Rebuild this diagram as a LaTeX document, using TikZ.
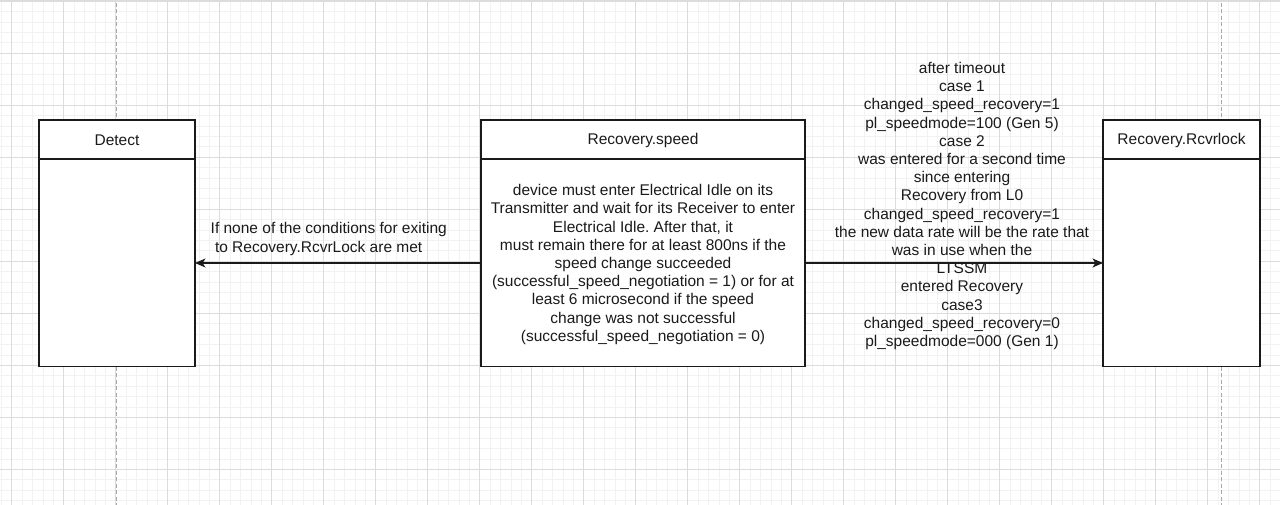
\documentclass[tikz,border=0pt]{standalone}
\usepackage{fontspec}
\setmainfont{Liberation Sans}
\usetikzlibrary{arrows.meta}
\frenchspacing
\definecolor{gridminor}{HTML}{F2F2F2}
\definecolor{gridmajor}{HTML}{DCDCDC}
\definecolor{inkc}{HTML}{1A1A1A}
\definecolor{lifec}{HTML}{A8A8A8}
\tikzset{
  statebox/.style={draw=inkc, line width=1.3pt, fill=white},
  headline/.style={draw=inkc, line width=1.3pt},
  lifeline/.style={draw=lifec, line width=0.9pt, dash pattern=on 4pt off 2.5pt},
  msg/.style={draw=inkc, line width=1.3pt, -{Stealth[length=10.5pt,width=9pt,inset=3pt]}},
  txt/.style={inner sep=0pt, align=center, text=inkc, font=\fontsize{15.5}{18.2}\selectfont},
}
\begin{document}
\begin{tikzpicture}[x=1pt, y=-1pt]
\useasboundingbox (0,0) rectangle (1280,505);
\fill[white] (0,0) rectangle (1280,505);
% grid
\foreach \i in {0,...,123} {
  \draw[gridminor, line width=0.8pt] (1.3+10.4*\i,0) -- (1.3+10.4*\i,505);
}
\foreach \i in {0,...,48} {
  \draw[gridminor, line width=0.8pt] (0,1.3+10.4*\i) -- (1280,1.3+10.4*\i);
}
\foreach \i in {0,...,24} {
  \draw[gridmajor, line width=0.9pt] (11.7+52*\i,0) -- (11.7+52*\i,505);
}
\foreach \i in {0,...,9} {
  \draw[gridmajor, line width=0.9pt] (0,1.3+52*\i) -- (1280,1.3+52*\i);
}
\fill[gridmajor] (0,0) rectangle (1280,2.5);
% lifelines
\coordinate (dtop) at (116.5,3);
\coordinate (dbot) at (116.5,505);
\coordinate (rtop) at (1221,3);
\coordinate (rbot) at (1221,505);
\draw[lifeline] (dtop) -- (116.5,120);
\draw[lifeline] (116.5,366.5) -- (dbot);
\draw[lifeline] (rtop) -- (1221,120);
\draw[lifeline] (1221,366.5) -- (rbot);
% boxes
\draw[statebox] (39,120) rectangle (195,366.5);
\draw[headline] (39,159) -- (195,159);
\draw[statebox] (481,120) rectangle (805,366.5);
\draw[headline] (481,159) -- (805,159);
\draw[statebox] (1103,120) rectangle (1260,366.5);
\draw[headline] (1103,159) -- (1260,159);
\coordinate (detR) at (195,263);
\coordinate (spdL) at (481,263);
\coordinate (spdR) at (805,263);
\coordinate (rcvL) at (1103,263);
% titles
\node[txt] (detect) at (117,140) {Detect};
\node[txt] (speed) at (643,140) {Recovery.speed};
\node[txt] (rcvr) at (1181.5,140) {Recovery.Rcvrlock};
\node[txt] (speedbody) at (643,264.5) {device must enter Electrical Idle on its\\Transmitter and wait for its Receiver to enter\\Electrical Idle. After that, it\\must remain there for at least 800ns if the\\speed change succeeded\\(successful\_speed\_negotiation = 1) or for at\\least 6 microsecond if the speed\\change was not successful\\(successful\_speed\_negotiation = 0)};
% connectors
\draw[msg] (spdL) -- (detR);
\draw[msg] (spdR) -- (rcvL);
\node[txt, align=left, anchor=west] (leftlbl) at (210.5,239) {If none of the conditions for exiting\\\hspace*{4.3pt}to Recovery.RcvrLock are met};
\node[txt] (rightlbl) at (962,206) {after timeout\\case 1\\changed\_speed\_recovery=1\\pl\_speedmode=100 (Gen 5)\\case 2\\was entered for a second time\\since entering\\Recovery from L0\\changed\_speed\_recovery=1\\the new data rate will be the rate that\\was in use when the\\LTSSM\\entered Recovery\\case3\\changed\_speed\_recovery=0\\pl\_speedmode=000 (Gen 1)};
\end{tikzpicture}
\end{document}
